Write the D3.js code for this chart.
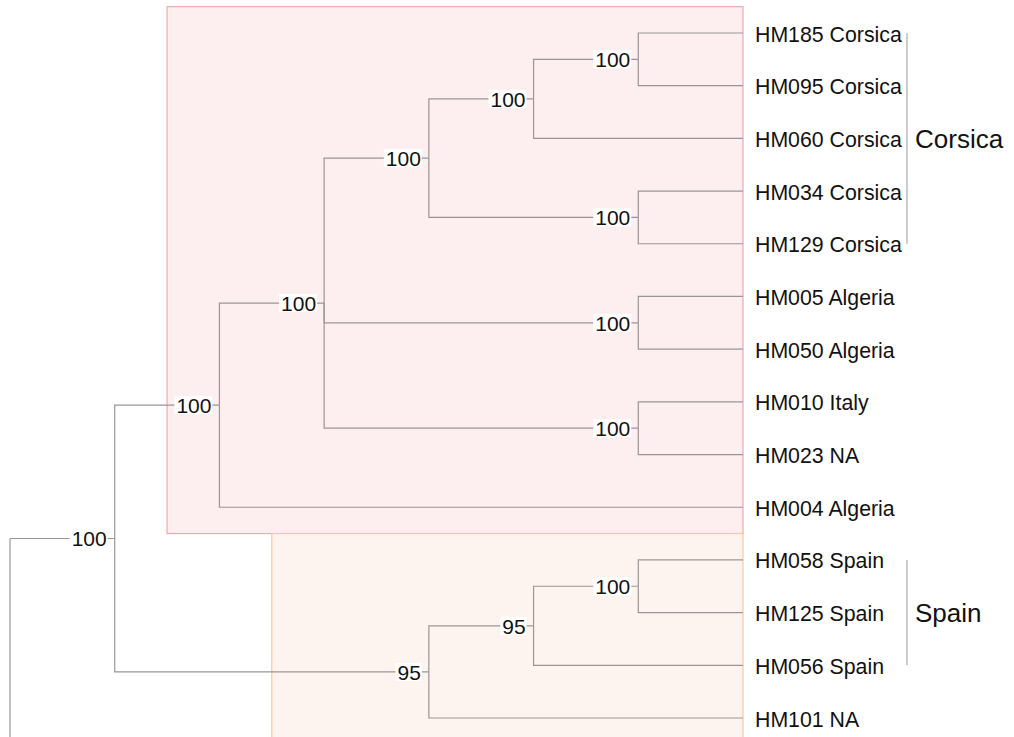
<!DOCTYPE html>
<html>
<head>
<meta charset="utf-8">
<script src="https://cdn.jsdelivr.net/npm/d3@7"></script>
<style>
  html, body { margin: 0; padding: 0; background: #fff; }
  svg { display: block; font-family: "Liberation Sans", Arial, Helvetica, sans-serif; }
</style>
</head>
<body>
<svg id="chart" width="1014" height="737"></svg>
<script>
// Tree topology in Newick form; internal node labels are bootstrap supports.
const newick =
  "(((((((HM185 Corsica,HM095 Corsica)100,HM060 Corsica)100,(HM034 Corsica,HM129 Corsica)100)100," +
  "(HM005 Algeria,HM050 Algeria)100,(HM010 Italy,HM023 NA)100)100,HM004 Algeria)100," +
  "(((HM058 Spain,HM125 Spain)100,HM056 Spain)95,HM101 NA)95)100);";

// Shaded clades: first and last tip of each clade, with fill / outline colours.
const highlightSpans = [["HM185 Corsica", "HM004 Algeria"], ["HM058 Spain", "HM101 NA"]];
const highlightFills = ["#fdeeef", "#fef4ef"];
const highlightStrokes = ["#f5a7ad", "#fcc89c"];

// Bracketed clade labels: tip range and text.
const bracketNames = ["Corsica", "Spain"];
const bracketSpans = [["HM185 Corsica", "HM129 Corsica"], ["HM058 Spain", "HM056 Spain"]];

// Minimal Newick reader producing {name, children} objects.
function parseNewick(s) {
  let i = 0;
  function readLabel() {
    let start = i;
    while (i < s.length && !",();".includes(s[i])) i++;
    return s.slice(start, i).trim();
  }
  function node() {
    const n = {};
    if (s[i] === "(") {
      i++;
      n.children = [node()];
      while (s[i] === ",") { i++; n.children.push(node()); }
      i++; // ')'
    }
    n.name = readLabel();
    return n;
  }
  return node();
}

const W = 1014, H = 737;
const svg = d3.select("#chart");

const root = d3.hierarchy(parseNewick(newick));
d3.cluster().size([1, 1]).separation(() => 1)(root);

const leaves = root.leaves();
const leafByName = new Map(leaves.map(d => [d.data.name, d]));

// Depth axis (horizontal) and tip axis (vertical).
const xs = d3.scaleLinear().domain([0, 1]).range([10, 743]);
const ys = d3.scaleLinear().domain(d3.extent(leaves, d => d.x)).range([33, 718]);
const halfStep = (718 - 33) / (leaves.length - 1) / 2;

// Clade highlight boxes
highlightSpans.forEach((span, k) => {
  const a = leafByName.get(span[0]), b = leafByName.get(span[1]);
  const clade = a.path(b).reduce((m, d) => (d.depth < m.depth ? d : m));
  const left = (xs(clade.parent.y) + xs(clade.y)) / 2;
  const top = ys(a.x) - halfStep, bottom = ys(b.x) + halfStep;
  svg.append("rect")
    .attr("x", left).attr("y", top)
    .attr("width", xs(1) - left).attr("height", bottom - top)
    .attr("fill", highlightFills[k])
    .attr("stroke", highlightStrokes[k])
    .attr("stroke-width", 1.2);
});

// Branches (elbow links)
const gLinks = svg.append("g")
  .attr("fill", "none").attr("stroke", "#9a9596").attr("stroke-width", 1.2);
gLinks.selectAll("path")
  .data(root.links())
  .join("path")
  .attr("d", l => `M${xs(l.source.y)},${ys(l.source.x)}V${ys(l.target.x)}H${xs(l.target.y)}`);

// Root stem, continuing below the frame
gLinks.append("path").attr("d", `M${xs(root.y)},${ys(root.x)}V${H + 10}`);

// Tip labels
svg.append("g")
  .selectAll("text")
  .data(leaves)
  .join("text")
  .attr("x", d => xs(d.y) + 12)
  .attr("y", d => ys(d.x))
  .attr("dy", "0.4em")
  .attr("font-size", 21.3)
  .attr("fill", "#111")
  .text(d => d.data.name);

// Support values at the end of each internal branch, on a white chip
const internal = root.descendants().filter(d => d.children && d.parent && d.data.name);
const gSup = svg.append("g");
internal.forEach(d => {
  const g = gSup.append("g");
  const t = g.append("text")
    .attr("x", xs(d.y) - 8)
    .attr("y", ys(d.x))
    .attr("dy", "0.37em")
    .attr("text-anchor", "end")
    .attr("font-size", 21)
    .attr("fill", "#111")
    .text(d.data.name);
  const bb = t.node().getBBox();
  g.insert("rect", "text")
    .attr("x", bb.x - 2).attr("y", ys(d.x) - 9)
    .attr("width", bb.width + 3).attr("height", 18)
    .attr("fill", "#fff");
});

// Clade brackets with labels
bracketSpans.forEach((span, k) => {
  const a = leafByName.get(span[0]), b = leafByName.get(span[1]);
  const bx = 907;
  svg.append("line")
    .attr("x1", bx).attr("x2", bx)
    .attr("y1", ys(a.x)).attr("y2", ys(b.x))
    .attr("stroke", "#bdbdbd").attr("stroke-width", 1.5);
  svg.append("text")
    .attr("x", bx + 8)
    .attr("y", (ys(a.x) + ys(b.x)) / 2)
    .attr("dy", "0.38em")
    .attr("font-size", 26)
    .attr("fill", "#111")
    .text(bracketNames[k]);
});
</script>
</body>
</html>
